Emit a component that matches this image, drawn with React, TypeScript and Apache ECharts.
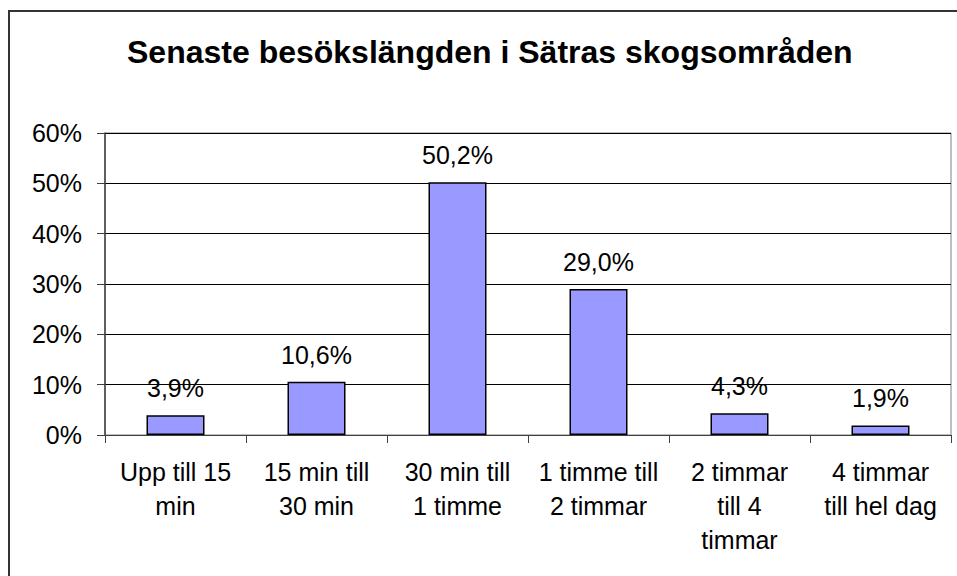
import React, { useEffect, useRef } from "react";
import * as echarts from "echarts";

const title = "Senaste besökslängden i Sätras skogsområden";
const categories = [
  "Upp till 15\nmin",
  "15 min till\n30 min",
  "30 min till\n1 timme",
  "1 timme till\n2 timmar",
  "2 timmar\ntill 4\ntimmar",
  "4 timmar\ntill hel dag",
];
const values = [3.9, 10.6, 50.2, 29.0, 4.3, 1.9];
const yMin = 0;
const yMax = 60;
const yStep = 10;

const FONT = "'Liberation Sans', Arial, sans-serif";

export default function App() {
  const ref = useRef<HTMLDivElement>(null);
  useEffect(() => {
    if (!ref.current) return;
    const chart = echarts.init(ref.current, undefined, { renderer: "svg" });
    chart.setOption({
      animation: false,
      backgroundColor: "#ffffff",
      textStyle: { fontFamily: FONT },
      title: {
        text: title,
        left: 122,
        top: 31,
        textStyle: { fontFamily: FONT, fontSize: 32, fontWeight: "bold", color: "#000" },
      },
      graphic: [
        {
          type: "rect",
          shape: { x: 9, y: 11, width: 980, height: 600 },
          style: { fill: "none", stroke: "#333333", lineWidth: 2 },
          silent: true,
        },
      ],
      grid: {
        left: 105,
        right: 6,
        top: 133,
        bottom: 141,
        show: true,
        borderColor: "#808080",
        borderWidth: 1,
        backgroundColor: "transparent",
      },
      xAxis: {
        type: "category",
        data: categories,
        axisLine: { show: true, lineStyle: { color: "#404040", width: 1 } },
        axisTick: { show: true, length: 8, alignWithLabel: false, lineStyle: { color: "#404040" } },
        axisLabel: {
          interval: 0,
          margin: 20,
          fontSize: 25,
          lineHeight: 34,
          color: "#000",
          fontFamily: FONT,
        },
      },
      yAxis: {
        type: "value",
        min: yMin,
        max: yMax,
        interval: yStep,
        axisLine: { show: true, lineStyle: { color: "#404040", width: 1.5 } },
        axisTick: { show: true, length: 8, lineStyle: { color: "#404040" } },
        axisLabel: {
          formatter: "{value}%",
          margin: 23,
          fontSize: 25,
          color: "#000",
          fontFamily: FONT,
        },
        splitLine: { show: true, lineStyle: { color: "#000", width: 1 } },
      },
      series: [
        {
          type: "bar",
          data: values,
          barWidth: 58,
          itemStyle: { color: "#9999FF", borderColor: "#000", borderWidth: 1.5 },
          label: {
            show: true,
            position: "top",
            distance: 13,
            fontSize: 25,
            lineHeight: 28,
            color: "#000",
            fontFamily: FONT,
            formatter: (p: any) => p.value.toFixed(1).replace(".", ",") + "%",
          },
        },
      ],
    });
    return () => chart.dispose();
  }, []);
  return (
    <div
      ref={ref}
      style={{ position: "absolute", left: 0, top: 0, width: 957, height: 576 }}
    />
  );
}
